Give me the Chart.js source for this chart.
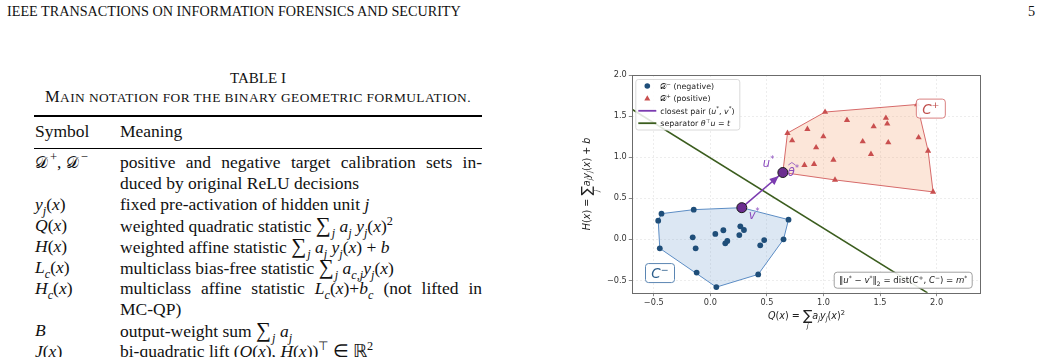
<!DOCTYPE html>
<html>
<head>
<meta charset="utf-8">
<script src="https://cdn.jsdelivr.net/npm/chart.js@4.4.0/dist/chart.umd.min.js"></script>
<style>
html, body { margin: 0; padding: 0; background: #fff; }
body { width: 1041px; height: 357px; overflow: hidden; position: relative; font-family: "Liberation Serif", "Times New Roman", serif; color: #111; }
.abs { position: absolute; white-space: nowrap; }
#hdr { left: 7px; top: 3px; font-size: 14.2px; }
#pg { left: 1028px; top: 3px; font-size: 14.2px; }
#tcap { left: 0; width: 516px; text-align: center; top: 70px; font-size: 15px; }
#tsub { left: 0; width: 516px; text-align: center; top: 87px; font-size: 13.4px; letter-spacing: 0.42px; }
#tsub b { font-weight: normal; font-size: 16.5px; }
.rule { position: absolute; left: 34px; width: 448px; background: #000; }
.row { position: absolute; left: 34px; width: 448px; height: 21px; line-height: 21px; font-size: 17.5px; white-space: nowrap; }
.sym { position: absolute; left: 1px; top: 0; }
.mean { position: absolute; left: 86px; right: 0; top: 0; }
.just { text-align: justify; text-align-last: justify; }
sub, sup { font-size: 70%; line-height: 0; }
.sum { font-size: 120%; margin-right: 1px; }
.cal { font-family: "DejaVu Serif", "Liberation Serif", serif; font-size: 92%; }
.up { display: inline-block; position: relative; top: -7px; font-size: 72%; margin-left: 2px; line-height: 10px; }
#wrap { position: absolute; left: 575px; top: 62px; width: 440px; height: 283px; }
</style>
</head>
<body>
<div class="abs" id="hdr">IEEE TRANSACTIONS ON INFORMATION FORENSICS AND SECURITY</div>
<div class="abs" id="pg">5</div>
<div class="abs" id="tcap">TABLE I</div>
<div class="abs" id="tsub"><b>M</b>AIN NOTATION FOR THE BINARY GEOMETRIC FORMULATION.</div>

<div class="rule" style="top:115px;height:2px"></div>
<div class="row" style="top:121px"><span class="sym">Symbol</span><span class="mean">Meaning</span></div>
<div class="rule" style="top:148px;height:1px"></div>
<div class="row" style="top:152px"><span class="sym"><span class="cal">𝒟</span><span class="up">+</span>, <span class="cal">𝒟</span><span class="up">−</span></span><span class="mean just">positive and negative target calibration sets in-</span></div>
<div class="row" style="top:173px"><span class="mean">duced by original ReLU decisions</span></div>
<div class="row" style="top:194px"><span class="sym"><i>y<sub>j</sub></i>(<i>x</i>)</span><span class="mean">fixed pre-activation of hidden unit <i>j</i></span></div>
<div class="row" style="top:215px"><span class="sym"><i>Q</i>(<i>x</i>)</span><span class="mean">weighted quadratic statistic <span class="sum">∑</span><sub><i>j</i></sub> <i>a<sub>j</sub> y<sub>j</sub></i>(<i>x</i>)<sup>2</sup></span></div>
<div class="row" style="top:236px"><span class="sym"><i>H</i>(<i>x</i>)</span><span class="mean">weighted affine statistic <span class="sum">∑</span><sub><i>j</i></sub> <i>a<sub>j</sub> y<sub>j</sub></i>(<i>x</i>) + <i>b</i></span></div>
<div class="row" style="top:257px"><span class="sym"><i>L<sub>c</sub></i>(<i>x</i>)</span><span class="mean">multiclass bias-free statistic <span class="sum">∑</span><sub><i>j</i></sub> <i>a<sub>c,j</sub>y<sub>j</sub></i>(<i>x</i>)</span></div>
<div class="row" style="top:278px"><span class="sym"><i>H<sub>c</sub></i>(<i>x</i>)</span><span class="mean just">multiclass affine statistic <i>L<sub>c</sub></i>(<i>x</i>)+<i>b<sub>c</sub></i> (not lifted in</span></div>
<div class="row" style="top:299px"><span class="mean">MC-QP)</span></div>
<div class="row" style="top:320px"><span class="sym"><i>B</i></span><span class="mean">output-weight sum <span class="sum">∑</span><sub><i>j</i></sub> <i>a<sub>j</sub></i></span></div>
<div class="row" style="top:341px"><span class="sym"><i>J</i>(<i>x</i>)</span><span class="mean">bi-quadratic lift (<i>Q</i>(<i>x</i>), <i>H</i>(<i>x</i>))<sup>⊤</sup> ∈ ℝ<sup>2</sup></span></div>

<div id="wrap"><canvas id="chart" width="440" height="283"></canvas></div>

<script>
// pontos da figura
const negX = [-0.432, -0.461, -0.147, 0.691, 0.647, 0.476, 0.441, 0.423, 0.053, -0.121, -0.447, -0.156, -0.130, 0.044, 0.115, 0.132, 0.150, 0.265, 0.297, 0.256];
const negY = [0.312, 0.227, 0.361, 0.239, 0.000, -0.010, -0.073, -0.427, -0.582, -0.405, -0.110, 0.024, -0.110, 0.065, 0.110, -0.049, -0.020, 0.158, 0.113, 0.052];
const posX = [0.682, 1.014, 1.828, 1.925, 1.969, 1.102, 0.858, 0.723, 0.999, 0.935, 1.088, 0.832, 0.917, 1.208, 1.347, 1.444, 1.420, 1.552, 1.564, 1.573, 1.841];
const posY = [1.293, 1.549, 1.641, 1.077, 0.577, 0.723, 1.341, 1.202, 1.251, 1.117, 0.967, 0.902, 0.915, 1.451, 1.190, 1.373, 1.037, 1.476, 1.406, 1.178, 1.239];
const vStar = [0.278, 0.385];      // ponto mais proximo em C-
const thetaStar = [0.641, 0.813];  // ponto mais proximo em C+ (u* = theta*)
const sepX = [-0.69, 1.92];
const sepY = [1.581, -0.652];
const xTicks = [-0.5, 0.0, 0.5, 1.0, 1.5, 2.0];
const yTicks = [-0.5, 0.0, 0.5, 1.0, 1.5, 2.0];
const xRange = [-0.69, 2.39];
const yRange = [-0.65, 2.0];

const BLUE = '#1f4e79', RED = '#c94f4f', PURPLE = '#6b2d90', GREEN = '#3b5d1e';
const SANS = '"DejaVu Sans", sans-serif';

function pts(xs, ys) { return xs.map((x, i) => ({ x: x, y: ys[i] })); }

// envoltoria convexa (monotone chain) para desenhar C+ e C-
function hull(points) {
  const p = points.slice().sort((a, b) => a.x - b.x || a.y - b.y);
  const cross = (o, a, b) => (a.x - o.x) * (b.y - o.y) - (a.y - o.y) * (b.x - o.x);
  const lower = [], upper = [];
  p.forEach(q => { while (lower.length >= 2 && cross(lower[lower.length - 2], lower[lower.length - 1], q) <= 0) lower.pop(); lower.push(q); });
  p.slice().reverse().forEach(q => { while (upper.length >= 2 && cross(upper[upper.length - 2], upper[upper.length - 1], q) <= 0) upper.pop(); upper.push(q); });
  const h = lower.slice(0, -1).concat(upper.slice(0, -1));
  h.push(h[0]);
  return h;
}

const negPts = pts(negX, negY), posPts = pts(posX, posY);
const vPt = { x: vStar[0], y: vStar[1] }, tPt = { x: thetaStar[0], y: thetaStar[1] };

// texto com italico / expoentes / indices
function rich(ctx, parts, x, y, size, color, align) {
  const fontOf = p => {
    let s = size;
    if (p[2] === 'sup' || p[2] === 'sub' || p[2] === 'under') s = size * 0.7;
    if (p[2] === 'big') s = size * 1.45;
    return (p[1] ? 'italic ' : '') + s + 'px ' + SANS;
  };
  let w = 0;
  const widths = parts.map(p => { ctx.font = fontOf(p); const m = ctx.measureText(p[0]).width; if (p[2] !== 'under') w += m; return m; });
  let cx = align === 'center' ? x - w / 2 : align === 'right' ? x - w : x;
  let prevX = cx, prevW = 0;
  ctx.textAlign = 'left';
  ctx.textBaseline = 'alphabetic';
  ctx.fillStyle = color;
  parts.forEach((p, i) => {
    ctx.font = fontOf(p);
    if (p[2] === 'under') { ctx.fillText(p[0], prevX + prevW / 2 - widths[i] / 2, y + size * 0.9); return; }
    let dy = 0;
    if (p[2] === 'sup') dy = -size * 0.4;
    if (p[2] === 'sub') dy = size * 0.25;
    if (p[2] === 'big') dy = size * 0.15;
    ctx.fillText(p[0], cx, y + dy);
    prevX = cx; prevW = widths[i]; cx += widths[i];
  });
  return w;
}

function roundBox(ctx, x, y, w, h, r, stroke, fill, lw) {
  ctx.beginPath();
  ctx.roundRect(x, y, w, h, r);
  ctx.fillStyle = fill; ctx.fill();
  ctx.lineWidth = lw || 1; ctx.strokeStyle = stroke; ctx.stroke();
}

const xLabel = [['Q', 1], ['(', 0], ['x', 1], [') = ', 0], ['∑', 0, 'big'], ['j', 1, 'under'], ['a', 1], ['j', 1, 'sub'], ['y', 1], ['j', 1, 'sub'], ['(', 0], ['x', 1], [')', 0], ['2', 0, 'sup']];
const yLabel = [['H', 1], ['(', 0], ['x', 1], [') = ', 0], ['∑', 0, 'big'], ['j', 1, 'under'], ['a', 1], ['j', 1, 'sub'], ['y', 1], ['j', 1, 'sub'], ['(', 0], ['x', 1], [') + ', 0], ['b', 1]];
const legendItems = [
  { kind: 'circle', color: BLUE, text: [['𝒟', 0], ['−', 0, 'sup'], [' (negative)', 0]] },
  { kind: 'triangle', color: RED, text: [['𝒟', 0], ['+', 0, 'sup'], [' (positive)', 0]] },
  { kind: 'line', color: '#7b3bb0', text: [['closest pair ', 0], ['(', 0], ['u', 1], ['*', 0, 'sup'], [', ', 0], ['v', 1], ['*', 0, 'sup'], [')', 0]] },
  { kind: 'line', color: GREEN, text: [['separator ', 0], ['θ', 1], ['⊤', 0, 'sup'], ['u', 1], [' = ', 0], ['t', 1]] }
];
const noteText = [['‖', 0], ['u', 1], ['*', 0, 'sup'], [' − ', 0], ['v', 1], ['*', 0, 'sup'], ['‖', 0], ['2', 0, 'sub'], [' = dist(', 0], ['C', 1], ['+', 0, 'sup'], [', ', 0], ['C', 1], ['−', 0, 'sup'], [') = ', 0], ['m', 1], ['*', 0, 'sup']];

const overlay = {
  id: 'overlay',
  afterDatasetsDraw(chart) {
    const ctx = chart.ctx, xs = chart.scales.x, ys = chart.scales.y;
    // ponta da seta v* -> theta*
    const x0 = xs.getPixelForValue(vPt.x), y0 = ys.getPixelForValue(vPt.y);
    const x1 = xs.getPixelForValue(tPt.x), y1 = ys.getPixelForValue(tPt.y);
    const ang = Math.atan2(y1 - y0, x1 - x0);
    const tipX = x1 - Math.cos(ang) * 5.5, tipY = y1 - Math.sin(ang) * 5.5;
    ctx.save();
    ctx.translate(tipX, tipY); ctx.rotate(ang);
    ctx.beginPath(); ctx.moveTo(0, 0); ctx.lineTo(-9, -4); ctx.lineTo(-9, 4); ctx.closePath();
    ctx.fillStyle = '#7b3bb0'; ctx.fill();
    ctx.restore();
  },
  afterDraw(chart) {
    const ctx = chart.ctx, xs = chart.scales.x, ys = chart.scales.y, a = chart.chartArea;
    ctx.save();
    // moldura
    ctx.strokeStyle = '#6b6b6b'; ctx.lineWidth = 1;
    ctx.strokeRect(Math.round(a.left) + 0.5, Math.round(a.top) + 0.5, Math.round(a.right - a.left), Math.round(a.bottom - a.top));

    // rotulos u*, theta*, v*
    const px = xs.getPixelForValue(tPt.x), py = ys.getPixelForValue(tPt.y);
    const vx = xs.getPixelForValue(vPt.x), vy = ys.getPixelForValue(vPt.y);
    rich(ctx, [['u', 1], ['*', 0, 'sup']], px - 20, py - 6, 11.5, '#8a4bbd', 'left');
    rich(ctx, [['θ', 1], ['*', 0, 'sup']], px + 5, py + 3, 11.5, '#8a4bbd', 'left');
    ctx.strokeStyle = '#8a4bbd'; ctx.lineWidth = 0.8;
    ctx.beginPath(); ctx.moveTo(px + 5.5, py - 7.5); ctx.lineTo(px + 9, py - 10); ctx.lineTo(px + 12.5, py - 7.5); ctx.stroke();
    rich(ctx, [['v', 1], ['*', 0, 'sup']], vx + 7, vy + 11, 11.5, '#8a4bbd', 'left');

    // caixas C+ e C-
    const cpx = xs.getPixelForValue(1.949), cpy = ys.getPixelForValue(1.591);
    roundBox(ctx, cpx - 14.5, cpy - 9.5, 29, 19, 3, '#d98080', 'rgba(255,255,255,0.9)');
    rich(ctx, [['C', 1], ['+', 0, 'sup']], cpx, cpy + 5, 13.5, '#c0504d', 'center');
    const cmx = xs.getPixelForValue(-0.445), cmy = ys.getPixelForValue(-0.411);
    roundBox(ctx, cmx - 14.5, cmy - 9.5, 29, 19, 3, '#5b86b3', 'rgba(255,255,255,0.9)');
    rich(ctx, [['C', 1], ['−', 0, 'sup']], cmx, cmy + 5, 13.5, '#2b5d8c', 'center');

    // caixa da margem
    roundBox(ctx, a.right - 146.5, a.bottom - 20.5, 138, 16, 3, '#a0a0a0', 'rgba(255,255,255,0.9)');
    rich(ctx, noteText, a.right - 77.5, a.bottom - 9.3, 8.6, '#222', 'center');

    // legenda
    const lx = a.left + 3.5, ly = a.top + 4.5;
    roundBox(ctx, lx, ly, 104, 50.5, 2.5, '#d0d0d0', 'rgba(255,255,255,0.85)', 0.8);
    legendItems.forEach((it, i) => {
      const cy = ly + 6.5 + i * 12.4;
      ctx.fillStyle = it.color; ctx.strokeStyle = it.color;
      if (it.kind === 'circle') { ctx.beginPath(); ctx.arc(lx + 11.5, cy, 2.8, 0, Math.PI * 2); ctx.fill(); }
      else if (it.kind === 'triangle') { ctx.beginPath(); ctx.moveTo(lx + 11.5, cy - 3.2); ctx.lineTo(lx + 14.5, cy + 2.2); ctx.lineTo(lx + 8.5, cy + 2.2); ctx.closePath(); ctx.fill(); }
      else { ctx.lineWidth = 1.8; ctx.beginPath(); ctx.moveTo(lx + 2.5, cy); ctx.lineTo(lx + 20.5, cy); ctx.stroke(); }
      rich(ctx, it.text, lx + 24.5, cy + 2.8, 7.9, '#222', 'left');
    });

    // titulos dos eixos
    rich(ctx, xLabel, (a.left + a.right) / 2, 257, 9.6, '#222', 'center');
    ctx.translate(15, (a.top + a.bottom) / 2);
    ctx.rotate(-Math.PI / 2);
    rich(ctx, yLabel, 0, 0, 9.6, '#222', 'center');
    ctx.restore();
  }
};

const tickFmt = v => v.toFixed(1).replace('-', '−');

new Chart(document.getElementById('chart'), {
  type: 'scatter',
  data: {
    datasets: [
      { type: 'scatter', label: 'closest', data: [vPt, tPt], pointRadius: 5, backgroundColor: PURPLE, borderColor: '#1a1a1a', borderWidth: 1, order: 0 },
      { type: 'line', label: 'pair', data: [vPt, tPt], borderColor: '#7b3bb0', borderWidth: 1.6, pointRadius: 0, fill: false, order: 1 },
      { type: 'scatter', label: 'neg', data: negPts, pointStyle: 'circle', pointRadius: 2.9, backgroundColor: BLUE, borderWidth: 0, order: 2 },
      { type: 'scatter', label: 'pos', data: posPts, pointStyle: 'triangle', pointRadius: 3.6, backgroundColor: RED, borderWidth: 0, order: 2 },
      { type: 'line', label: 'sep', data: pts(sepX, sepY), borderColor: GREEN, borderWidth: 1.6, pointRadius: 0, fill: false, order: 3 },
      { type: 'line', label: 'hullNeg', data: hull(negPts.concat([vPt])), borderColor: '#5b8cc4', borderWidth: 1, backgroundColor: 'rgba(125,168,210,0.27)', pointRadius: 0, fill: 'shape', tension: 0, order: 4 },
      { type: 'line', label: 'hullPos', data: hull(posPts.concat([tPt])), borderColor: '#d66a6a', borderWidth: 1, backgroundColor: 'rgba(245,165,120,0.28)', pointRadius: 0, fill: 'shape', tension: 0, order: 4 }
    ]
  },
  options: {
    responsive: false,
    animation: false,
    events: [],
    layout: { padding: { left: 0, right: 34.3, top: 13, bottom: 0 } },
    plugins: { legend: { display: false }, tooltip: { enabled: false } },
    scales: {
      x: {
        type: 'linear', min: xRange[0], max: xRange[1],
        afterBuildTicks: s => { s.ticks = xTicks.map(v => ({ value: v })); },
        afterFit: s => { s.height = 52.3; },
        ticks: { callback: tickFmt, color: '#333', font: { family: 'DejaVu Sans', size: 8.2 }, padding: 2, maxRotation: 0 },
        grid: { color: 'rgba(0,0,0,0.09)', lineWidth: 0.8, tickColor: '#6b6b6b', tickLength: 3.5, tickWidth: 0.8 },
        border: { display: false, dash: [2, 2] }
      },
      y: {
        type: 'linear', min: yRange[0], max: yRange[1],
        afterBuildTicks: s => { s.ticks = yTicks.map(v => ({ value: v })); },
        afterFit: s => { s.width = 57.3; },
        ticks: { callback: tickFmt, color: '#333', font: { family: 'DejaVu Sans', size: 8.2 }, padding: 2 },
        grid: { color: 'rgba(0,0,0,0.09)', lineWidth: 0.8, tickColor: '#6b6b6b', tickLength: 3.5, tickWidth: 0.8 },
        border: { display: false, dash: [2, 2] }
      }
    }
  },
  plugins: [overlay]
});
</script>
</body>
</html>
